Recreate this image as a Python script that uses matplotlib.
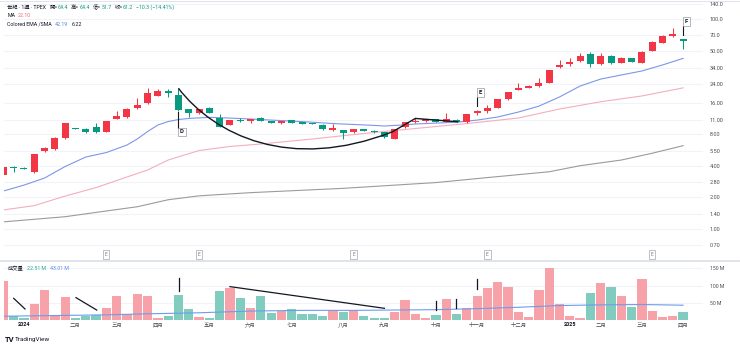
import matplotlib
matplotlib.use("Agg")
import matplotlib.pyplot as plt
from matplotlib.path import Path
from matplotlib.patches import PathPatch
from matplotlib.lines import Line2D
from matplotlib.transforms import IdentityTransform, blended_transform_factory
from matplotlib.ticker import NullLocator

plt.rcParams['font.family'] = ['Roboto', 'Noto Sans CJK TC', 'DejaVu Sans']

# ---------------- data (weekly bars, index 0 = week of 2023-12-18) ----------------
opens = [3.27, 3.90, 3.84, 3.49, 5.53, 5.82, 7.31, 9.05, 8.96, 9.30,
         8.45, 11.23, 11.74, 14.11, 15.74, 18.60, 20.62, 18.89, 13.89, 12.65,
         14.29, 11.33, 9.78, 10.99, 10.61, 11.48, 10.61, 10.29, 10.92, 10.38,
         10.22, 9.85, 8.90, 8.80, 8.34, 8.96, 8.64, 8.34, 7.24, 9.30,
         10.38, 10.61, 11.09, 10.52, 10.99, 10.38, 12.82, 13.39, 14.29, 17.19,
         21.08, 22.17, 23.01, 24.74, 34.67, 37.03, 40.09, 46.11, 37.27, 44.67,
         38.35, 42.24, 38.35, 49.9, 59.5, 68.9, 64.4]
highs = [3.95, 3.98, 3.92, 5.22, 6.08, 7.57, 10.2, 9.10, 9.22, 10.15,
         10.8, 13.39, 14.11, 17.57, 21.88, 21.41, 21.41, 21.88, 13.95, 14.0,
         14.4, 12.38, 11.0, 11.48, 11.15, 11.6, 10.7, 10.65, 11.0, 10.45,
         10.3, 9.9, 9.93, 8.85, 9.0, 9.0, 8.7, 8.4, 8.95, 10.45,
         11.48, 11.2, 11.2, 12.65, 11.1, 12.5, 13.59, 15.17, 17.3, 20.2,
         24.74, 23.3, 27.6, 33.0, 40.7, 42.53, 47.13, 48.8, 47.75, 45.5,
         43.5, 42.5, 49.5, 61.5, 70.0, 81.5, 64.4]
lows = [3.20, 3.51, 3.70, 3.45, 5.45, 5.65, 7.25, 8.95, 8.26, 8.26,
        8.40, 11.09, 11.33, 14.0, 15.6, 18.48, 18.2, 13.4, 11.66, 12.5,
        12.7, 9.35, 9.7, 10.45, 10.15, 10.7, 10.15, 9.93, 10.25, 9.95,
        9.9, 8.85, 8.58, 7.20, 8.3, 8.5, 8.3, 7.4, 7.2, 9.25,
        10.15, 10.55, 10.45, 10.45, 10.4, 10.3, 12.18, 12.65, 14.2, 17.1,
        20.9, 21.9, 22.66, 24.5, 33.93, 35.67, 39.2, 34.67, 36.47, 37.0,
        38.0, 38.9, 38.0, 49.5, 59.0, 68.0, 51.7]
closes = [3.92, 3.86, 3.73, 5.18, 5.87, 7.40, 10.15, 9.00, 8.45, 8.34,
          10.75, 11.92, 13.89, 15.17, 19.87, 20.76, 19.61, 13.59, 12.65, 13.89,
          12.82, 9.43, 10.92, 10.61, 11.09, 10.75, 10.22, 10.61, 10.29, 10.0,
          9.93, 8.90, 9.02, 8.20, 8.96, 8.52, 8.34, 7.47, 8.90, 10.38,
          10.68, 11.09, 10.52, 11.09, 10.45, 12.45, 13.30, 14.11, 17.19, 20.04,
          22.17, 23.01, 24.41, 32.69, 36.47, 38.69, 44.67, 37.27, 44.67, 37.85,
          42.80, 39.2, 48.8, 60.8, 68.9, 71.5, 61.2]
volumes_m = [113, 13, 6, 47, 86, 13, 68, 5, 13, 15,
             35, 71, 16, 76, 69, 6, 13, 72, 31, 10,
             6, 83, 92, 65, 34, 69, 20, 26, 31, 18,
             18, 11, 28, 22, 28, 11, 7, 7, 23, 57,
             18, 7, 15, 62, 16, 34, 71, 94, 110, 95,
             23, 10, 88, 152, 47, 12, 7, 79, 108, 97,
             71, 39, 120, 27, 10, 13, 22.51]

# moving averages (index, value)
ema_idx = [0, 2, 4, 6, 8, 10, 12, 13, 14, 15, 16, 17, 18, 20, 22, 24, 26, 28, 30, 32,
           34, 36, 37, 38, 39, 40, 42, 44, 46, 48, 50, 52, 54, 56, 58, 60, 62, 64, 66]
ema_val = [2.30, 2.62, 3.06, 3.94, 4.85, 5.35, 6.31, 7.2, 8.48, 9.78, 10.56, 11.03, 11.3,
           11.58, 11.4, 11.16, 10.9, 10.67, 10.4, 10.1, 9.9, 9.7, 9.57, 9.7, 9.8, 10.0,
           10.2, 10.4, 10.9, 11.66, 13.0, 14.8, 18.1, 23.0, 26.8, 29.3, 32.0, 36.5, 42.19]
ma_idx = [0, 3, 6, 9, 12, 14, 16, 19, 22, 25, 30, 35, 40, 45, 50, 54, 58, 62, 66]
ma_val = [1.52, 1.67, 2.06, 2.48, 3.13, 3.65, 4.54, 5.59, 6.11, 6.45, 7.2, 8.12,
          9.06, 10.1, 11.4, 13.9, 16.3, 18.5, 22.10]
sma_idx = [0, 6, 9, 13, 16, 19, 24, 33, 42, 47, 53, 56, 60, 63, 66]
sma_val = [1.17, 1.31, 1.44, 1.63, 1.90, 2.07, 2.22, 2.44, 2.77, 3.09, 3.51, 4.01,
           4.54, 5.27, 6.22]
vma_idx = [0, 5, 10, 14, 19, 24, 29, 34, 38, 42, 46, 50, 54, 58, 62, 66]
vma_val = [11, 13, 15, 18, 21, 26, 28, 28, 29, 30, 33, 37, 42, 44, 45, 43.01]

price_ticks = [0.70, 1.00, 1.40, 2.00, 2.80, 4.00, 5.50, 8.00, 11.00, 16.00,
               24.00, 34.00, 50.00, 70.0, 100.0, 140.0]
price_labels = ['0.70', '1.00', '1.40', '2.00', '2.80', '4.00', '5.50', '8.00', '11.00',
                '16.00', '24.00', '34.00', '50.00', '70.0', '100.0', '140.0']
vol_ticks = [50, 100, 150]
vol_labels = ['50 M', '100 M', '150 M']
month_idx = [2, 7, 11, 15, 20, 24, 28, 33, 37, 42, 46, 50, 55, 58, 62, 66]
month_labels = ['2024', '二月', '三月', '四月', '五月', '六月', '七月', '八月', '九月',
                '十月', '十一月', '十二月', '2025', '二月', '三月', '四月']
earnings_idx = [10, 19, 34, 47, 63]
# pattern labels: (index, letter, anchor price, side)
pattern_marks = [(17, 'D', 13.4, 'below'), (46, 'E', 13.59, 'above'), (66, 'F', 64.4, 'above')]
# cup & handle drawing (index, price)
cup_start = (17, 21.88)
cup_ctrl1 = (20.5, 7.86)
cup_ctrl2 = (27.8, 3.49)
cup_end = (37.8, 8.45)
handle_pts_i = [37.8, 40.0, 44.1]
handle_pts_p = [8.45, 11.3, 10.5]
# volume trend lines drawn on chart (index pairs, volume pairs)
vol_lines = [((1.0, 2.1), (63, 32)), ((7.05, 9.06), (65, 29)), ((22.0, 37.0), (97, 34))]
vol_ticks_marks = [(17.05, 84, 121), (42.0, 29, 55), (43.9, 34, 60), (46.0, 89, 119)]

# header texts
header_line1 = [('世紀 · 1週 · TPEX', 'dark', 0), ('開=', 'dark', 3), ('64.4', 'green', 0.3),
                ('高=', 'dark', 3), ('64.4', 'green', 0.3), ('低=', 'dark', 3),
                ('51.7', 'green', 0.3), ('收=', 'dark', 3), ('61.2', 'green', 0.3),
                ('−10.3 (−14.41%)', 'green', 3)]
header_line2 = [('MA', 'dark', 0), ('22.10', 'pink', 2.5)]
header_line3 = [('Colored EMA /SMA', 'dark', 0), ('42.19', 'blue', 3), ('6.22', 'dark', 3)]
vol_legend = [('成交量', 'dark', 0), ('22.51 M', 'teal', 3.5), ('43.01 M', 'vblue', 3.5)]

# ---------------- layout ----------------
W, H = 740, 348
fig = plt.figure(figsize=(W / 100, H / 100), dpi=100)
fig.patch.set_facecolor('white')
renderer = fig.canvas.get_renderer()


def fb(l, t, r, b):
    return [l / W, 1 - b / H, (r - l) / W, (b - t) / H]


ax = fig.add_axes(fb(4, 1, 703, 260))
axv = fig.add_axes(fb(4, 262, 703, 320))

UP = '#F23645'
DN = '#089981'
UPV = '#F7A1A9'
DNV = '#82CCBF'
TXT = '#4A4D57'
GRID = '#F0F3FA'
DARK = '#131722'
PAL = {'dark': DARK, 'green': DN, 'pink': '#F0647A', 'blue': '#5B7FE0',
       'teal': '#22AB94', 'vblue': '#5B8DEF'}

n = len(closes)
xs = list(range(n))

ax.set_yscale('log')
ax.set_xlim(0.06, 67.93)
ax.set_ylim(0.507, 148.4)
axv.set_xlim(0.06, 67.93)
axv.set_ylim(0, 168.6)

for a in (ax, axv):
    for s in a.spines.values():
        s.set_visible(False)
    a.set_facecolor('white')
    a.set_axisbelow(True)

# candles
for i in xs:
    o, h, l, c = opens[i], highs[i], lows[i], closes[i]
    col = UP if c >= o else DN
    ax.vlines(i, l, h, color=col, lw=0.75, zorder=3)
    top, bot = max(o, c), min(o, c)
    if top / bot < 1.03:
        mid = (top * bot) ** 0.5
        top, bot = mid * 1.015, mid / 1.015
    ax.bar(i, top - bot, bottom=bot, width=0.68, color=col, lw=0, zorder=4)

# moving averages
ax.plot(sma_idx, sma_val, color='#9B9B9B', lw=0.8, zorder=2)
ax.plot(ma_idx, ma_val, color='#F4AEBD', lw=0.8, zorder=2)
ax.plot(ema_idx, ema_val, color='#7D97E6', lw=0.8, zorder=2)

# cup drawing
verts = [cup_start, cup_ctrl1, cup_ctrl2, cup_end]
codes = [Path.MOVETO, Path.CURVE4, Path.CURVE4, Path.CURVE4]
ax.add_patch(PathPatch(Path(verts, codes), fill=False, ec=DARK, lw=1.0, zorder=5))
ax.plot(handle_pts_i, handle_pts_p, color=DARK, lw=1.0, zorder=5)

# y axis
ax.set_yticks(price_ticks)
ax.set_yticklabels(price_labels)
ax.yaxis.set_minor_locator(NullLocator())
ax.yaxis.tick_right()
ax.tick_params(axis='y', length=0, pad=5, labelsize=4.0, labelcolor=TXT)
ax.set_xticks([])
ax.grid(axis='y', color=GRID, lw=0.8)

# earnings markers at bottom of price pane
btrans = blended_transform_factory(ax.transData, ax.transAxes)
for e in earnings_idx:
    ax.text(e, 0.021, 'E', transform=btrans, ha='center', va='center', fontsize=3.6,
            color='#787B86', zorder=6,
            bbox=dict(boxstyle='square,pad=0.35', fc='white', ec='#A3A6AF', lw=0.5))

# pattern letter markers
for idx, letter, anchor, side in pattern_marks:
    X, Y = ax.transData.transform((idx, anchor))
    if side == 'below':
        y0, y1 = Y - 1.5, Y - 17
        ty = y1 - 4.2
    else:
        y0, y1 = Y + 4, Y + 13.5
        ty = y1 + 4.2
    fig.add_artist(Line2D([X - 0.3, X - 0.3], [y0, y1], transform=IdentityTransform(),
                          color=DARK, lw=0.8))
    fig.text(X + 3.4, ty, letter, transform=IdentityTransform(), ha='center', va='center',
             fontsize=4.3, fontweight='bold', color=DARK,
             bbox=dict(boxstyle='square,pad=0.3', fc='white', ec='#9598A1', lw=0.5))

# volume panel
vcols = [UPV if closes[i] >= opens[i] else DNV for i in xs]
axv.bar(xs, volumes_m, width=0.9, color=vcols, lw=0, zorder=2)
axv.plot(vma_idx, vma_val, color='#6C9DEA', lw=0.8, zorder=3)
for (xi, yv) in vol_lines:
    axv.plot(xi, yv, color=DARK, lw=0.9, zorder=4)
for (xi, v0, v1) in vol_ticks_marks:
    axv.plot([xi, xi], [v0, v1], color=DARK, lw=0.9, zorder=4)
axv.set_yticks(vol_ticks)
axv.set_yticklabels(vol_labels)
axv.yaxis.tick_right()
axv.tick_params(axis='y', length=0, pad=5, labelsize=3.7, labelcolor=TXT)
axv.grid(axis='y', color=GRID, lw=0.8)
axv.set_xticks(month_idx)
axv.set_xticklabels(month_labels)
axv.tick_params(axis='x', length=0, pad=1.8, labelsize=3.9, labelcolor=TXT)
for t in axv.get_xticklabels():
    if t.get_text() in ('2024', '2025'):
        t.set_fontweight('bold')
        t.set_color(DARK)

# separators
fig.add_artist(Line2D([0, W], [H - 261, H - 261], transform=IdentityTransform(),
                      color='#E0E3EB', lw=1.4))
fig.add_artist(Line2D([0, W], [H - 0.5, H - 0.5], transform=IdentityTransform(),
                      color='#E0E3EB', lw=0.7))


def chain(x, y, segs, size=3.8):
    for s, ckey, gap in segs:
        x += gap
        t = fig.text(x, H - y, s, transform=IdentityTransform(), color=PAL[ckey],
                     fontsize=size, ha='left', va='center')
        x += t.get_window_extent(renderer).width


chain(7.3, 7.6, header_line1)
chain(7.3, 15.6, header_line2)
chain(7.3, 24.0, header_line3)
chain(8.0, 268.3, vol_legend)

# logo
fig.text(5.0, H - 340.0, 'TV', transform=IdentityTransform(), color=DARK, fontsize=5.5,
         fontweight='bold', ha='left', va='center')
fig.text(15.0, H - 340.0, 'TradingView', transform=IdentityTransform(), color=DARK,
         fontsize=4.6, ha='left', va='center')

fig.savefig('out.png', dpi=100, facecolor='white')
